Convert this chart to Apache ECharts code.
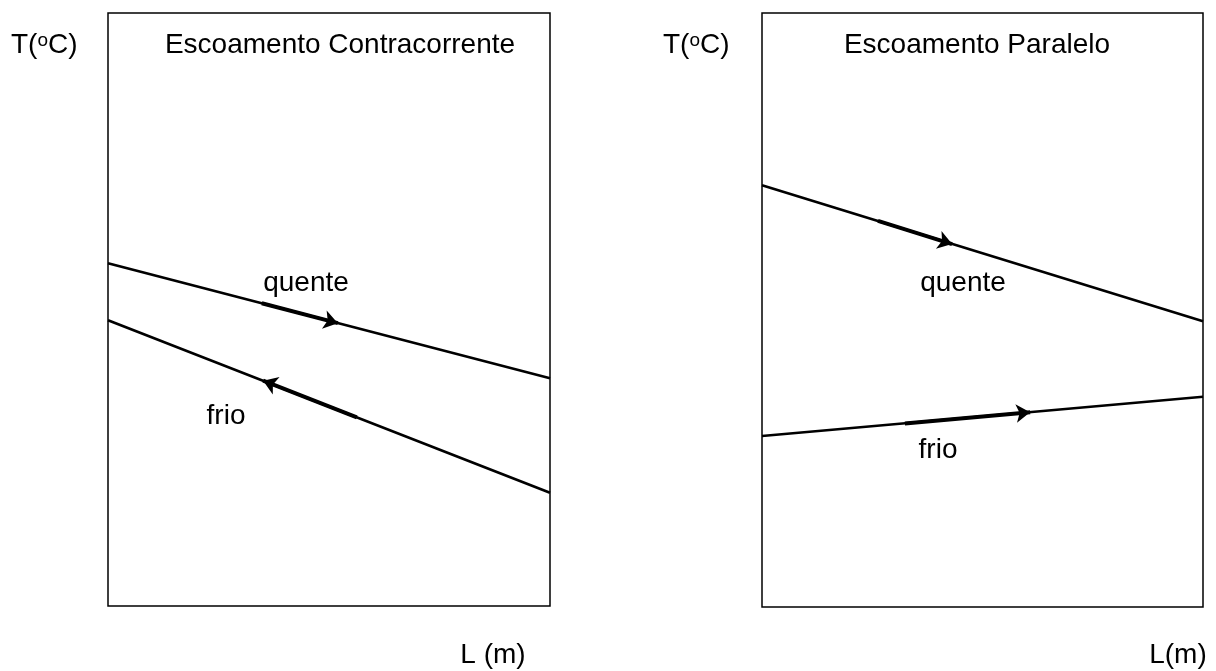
<!DOCTYPE html>
<html>
<head>
<meta charset="utf-8">
<script src="https://cdn.jsdelivr.net/npm/echarts@6/dist/echarts.min.js"></script>
<style>
  html, body { margin: 0; padding: 0; background: #fff; }
  #chart { width: 1216px; height: 671px; }
</style>
</head>
<body>
<div id="chart"></div>
<script>
// L is normalised 0..1, T is an arbitrary 0..100 scale (no ticks shown)
const lPoints = [0, 1]

// contracorrente
const ccHot = [57.8, 38.4]
const ccCold = [48.2, 19.1]
const ccHotArrow = [[0.348, 51.05], [0.52, 47.7]]
const ccColdArrow = [[0.563, 31.8], [0.351, 38.0]]

// paralelo
const parHot = [71.0, 48.1]
const parCold = [28.8, 35.4]
const parHotArrow = [[0.263, 65.0], [0.431, 61.1]]
const parColdArrow = [[0.324, 30.9], [0.608, 32.8]]

const font = 'Liberation Sans, Arial, sans-serif'
const ink = '#000'

function pairs(ys) {
  return lPoints.map((x, i) => [x, ys[i]])
}

function lineSeries(idx, ys) {
  return {
    type: 'line',
    xAxisIndex: idx,
    yAxisIndex: idx,
    data: pairs(ys),
    showSymbol: false,
    silent: true,
    lineStyle: { color: ink, width: 2.6 }
  }
}

function arrowSeries(idx, coords) {
  return {
    type: 'lines',
    coordinateSystem: 'cartesian2d',
    xAxisIndex: idx,
    yAxisIndex: idx,
    silent: true,
    symbol: ['none', 'arrow'],
    symbolSize: 14,
    lineStyle: { color: ink, width: 4, opacity: 1 },
    data: [{ coords: coords }]
  }
}

function axisX(idx) {
  return {
    gridIndex: idx, type: 'value', min: 0, max: 1,
    axisLine: { show: false }, axisTick: { show: false },
    axisLabel: { show: false }, splitLine: { show: false }
  }
}
function axisY(idx) {
  return {
    gridIndex: idx, type: 'value', min: 0, max: 100,
    axisLine: { show: false }, axisTick: { show: false },
    axisLabel: { show: false }, splitLine: { show: false }
  }
}

function txt(x, y, s, align) {
  return {
    type: 'text', x: x, y: y,
    style: {
      text: s, font: '28px ' + font, fill: ink,
      textAlign: align || 'center', textVerticalAlign: 'middle'
    }
  }
}

function tLabel(x, y) {
  return {
    type: 'text', x: x, y: y,
    style: {
      text: '{n|T(}{s|o}{n|C)}',
      rich: {
        n: { font: '28px ' + font, fill: ink, verticalAlign: 'middle' },
        s: { font: '19px ' + font, fill: ink, verticalAlign: 'top', padding: [0, 0, 9, 0] }
      },
      textVerticalAlign: 'middle'
    }
  }
}

const chart = echarts.init(document.getElementById('chart'))
chart.setOption({
  animation: false,
  backgroundColor: '#fff',
  grid: [
    { left: 108, right: 666, top: 13, bottom: 65, show: true, borderColor: ink, borderWidth: 1.5, backgroundColor: 'transparent' },
    { left: 762, right: 13, top: 13, bottom: 64, show: true, borderColor: ink, borderWidth: 1.5, backgroundColor: 'transparent' }
  ],
  xAxis: [axisX(0), axisX(1)],
  yAxis: [axisY(0), axisY(1)],
  series: [
    lineSeries(0, ccHot),
    lineSeries(0, ccCold),
    arrowSeries(0, ccHotArrow),
    arrowSeries(0, ccColdArrow),
    lineSeries(1, parHot),
    lineSeries(1, parCold),
    arrowSeries(1, parHotArrow),
    arrowSeries(1, parColdArrow)
  ],
  graphic: [
    tLabel(11, 45),
    txt(340, 45, 'Escoamento Contracorrente'),
    tLabel(663, 45),
    txt(977, 45, 'Escoamento Paralelo'),
    txt(306, 283, 'quente'),
    txt(226, 416, 'frio'),
    txt(963, 283, 'quente'),
    txt(938, 450, 'frio'),
    txt(493, 655, 'L (m)'),
    txt(1178, 655, 'L(m)')
  ]
})
</script>
</body>
</html>
